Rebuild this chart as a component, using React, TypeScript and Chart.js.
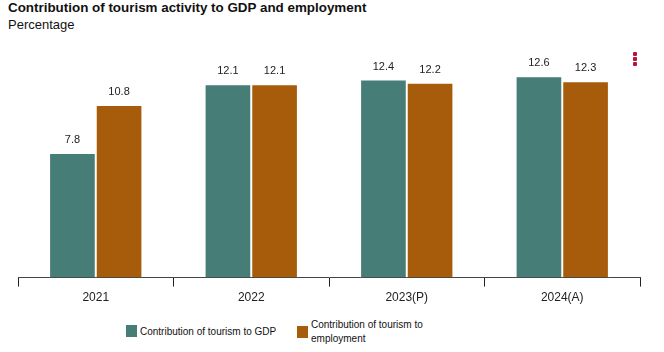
import React, { useEffect, useRef } from "react";
import { Chart, registerables } from "chart.js";

Chart.register(...registerables);

const categories = ["2021", "2022", "2023(P)", "2024(A)"];
const gdpValues = [7.8, 12.1, 12.4, 12.6];
const employmentValues = [10.8, 12.1, 12.2, 12.3];
const seriesNames = ["Contribution of tourism to GDP", "Contribution of tourism to employment"];
const seriesColors = ["#467d76", "#a65c0b"];

const valueLabels = {
  id: "valueLabels",
  afterDatasetsDraw(chart: any) {
    const ctx = chart.ctx;
    ctx.save();
    ctx.font = "11px Arial, 'Liberation Sans', sans-serif";
    ctx.fillStyle = "#222";
    ctx.textAlign = "center";
    ctx.textBaseline = "alphabetic";
    chart.data.datasets.forEach((ds: any, i: number) => {
      const meta = chart.getDatasetMeta(i);
      meta.data.forEach((bar: any, j: number) => {
        ctx.fillText(String(ds.data[j].toFixed(1)), bar.x, bar.y - 10);
      });
    });
    ctx.restore();
  },
};

export default function App() {
  const ref = useRef<HTMLCanvasElement>(null);
  useEffect(() => {
    document.body.style.margin = "0";
    const chart = new Chart(ref.current!, {
      type: "bar",
      data: {
        labels: categories,
        datasets: [
          { label: seriesNames[0], data: gdpValues, backgroundColor: seriesColors[0], borderColor: "#ffffff", borderWidth: 1 },
          { label: seriesNames[1], data: employmentValues, backgroundColor: seriesColors[1], borderColor: "#ffffff", borderWidth: 1 },
        ],
      },
      options: {
        animation: false,
        responsive: false,
        maintainAspectRatio: false,
        layout: { padding: { left: 18, right: 24, top: 17, bottom: 0 } },
        plugins: { legend: { display: false }, tooltip: { enabled: false } },
        datasets: { bar: { categoryPercentage: 0.6, barPercentage: 1 } },
        scales: {
          y: { display: false, min: 0, max: 14 },
          x: {
            border: { display: true, color: "#444", width: 1 },
            grid: { display: true, offset: true, drawOnChartArea: false, drawTicks: true, tickLength: 9, color: "#222" },
            ticks: { color: "#222", font: { family: "Arial, 'Liberation Sans', sans-serif", size: 12 }, padding: 4 },
          },
        },
      },
      plugins: [valueLabels],
    });
    return () => chart.destroy();
  }, []);

  const font = "Arial, 'Liberation Sans', sans-serif";
  return (
    <div style={{ position: "absolute", left: 0, top: 0, width: 664, height: 352, fontFamily: font, color: "#111" }}>
      <div style={{ position: "absolute", left: 8, top: 0, fontWeight: "bold", fontSize: 13.4, lineHeight: "16px" }}>
        Contribution of tourism activity to GDP and employment
      </div>
      <div style={{ position: "absolute", left: 8, top: 17, fontSize: 13, lineHeight: "16px" }}>Percentage</div>
      <div style={{ position: "absolute", left: 633, top: 52 }}>
        {[0, 1, 2].map((i) => (
          <div key={i} style={{ width: 4, height: 4, borderRadius: 1, background: "#b4163c", marginBottom: 1 }} />
        ))}
      </div>
      <canvas ref={ref} width={664} height={272} style={{ position: "absolute", left: 0, top: 37, width: 664, height: 272 }} />
      <div style={{ position: "absolute", left: 126, top: 325, display: "flex", alignItems: "center", fontSize: 10 }}>
        <div style={{ width: 11, height: 12, background: seriesColors[0], marginRight: 3 }} />
        <span>{seriesNames[0]}</span>
      </div>
      <div style={{ position: "absolute", left: 297, top: 318, display: "flex", alignItems: "center", fontSize: 10 }}>
        <div style={{ width: 11, height: 12, background: seriesColors[1], marginRight: 3, flexShrink: 0 }} />
        <span style={{ width: 115, lineHeight: "14px" }}>{seriesNames[1]}</span>
      </div>
    </div>
  );
}
